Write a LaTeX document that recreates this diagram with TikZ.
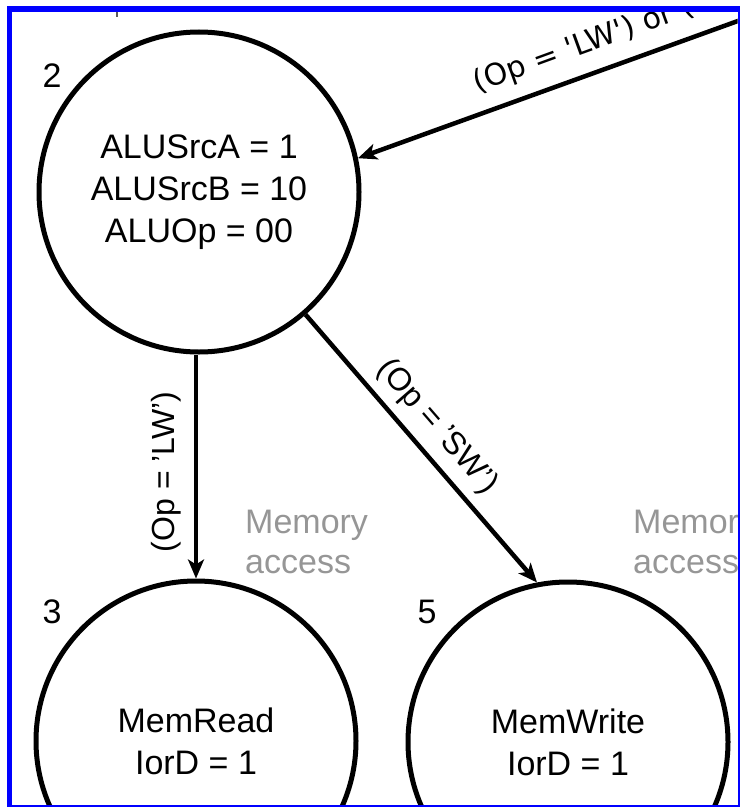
\documentclass[tikz,border=0pt]{standalone}
\usepackage{fontspec}
\setmainfont{Liberation Sans}
\newfontfamily\condfont{DejaVu Sans}
\usetikzlibrary{arrows.meta}
\definecolor{frameblue}{RGB}{0,0,255}
\definecolor{notegray}{RGB}{150,150,150}
\begin{document}
\begin{tikzpicture}[x=1pt,y=-1pt,
  state/.style={circle, draw, line width=5pt, minimum size=320pt, inner sep=0pt,
                align=center, font=\fontsize{34}{42}\selectfont},
  trans/.style={line width=4.5pt, -{Stealth[length=19pt,width=16pt,inset=5pt]}},
  statenum/.style={font=\fontsize{34}{40}\selectfont, inner sep=0pt},
  cond/.style={font=\fontsize{32}{38}\selectfont, inner sep=0pt},
  note/.style={font=\fontsize{34}{40}\selectfont, text=notegray, align=left, inner sep=0pt}]
\useasboundingbox (0,0) rectangle (743,808);

\begin{scope}
  \clip (12,12) rectangle (737.5,804.7);

  % states
  \node[state] (s2) at (199,192) {ALUSrcA = 1\\ALUSrcB = 10\\ALUOp = 00};
  \node[state] (s3) at (196,741) {MemRead\\IorD = 1};
  \node[state] (s5) at (568,742) {MemWrite\\IorD = 1};

  \node[statenum] (n2) at (52,76) {2};
  \node[statenum] (n3) at (52,612) {3};
  \node[statenum] (n5) at (427,612) {5};

  % transitions
  \coordinate (fromdec) at (760,13);
  \draw[trans] (fromdec) -- (s2.12);
  \draw[trans] (s3.north |- s2.south) -- (s3.north);
  \draw[trans] (s2.-49) -- (s5.101);

  % conditions
  \node[font=\condfont\fontsize{30}{36}\selectfont, rotate=20, anchor=base west, inner sep=0pt]
       (cdec) at (477,93) {(Op = 'LW') or (Op = 'SW')};
  \node[cond, rotate=90] (clw) at (166,472) {(Op = 'LW')};
  \node[cond, rotate=-49] (csw) at (437,427) {(Op = 'SW')};

  % phase notes (anchored at the baseline of the last line)
  \node[note, anchor=base west] (mem1) at (245,573) {Memory\\access};
  \node[note, anchor=base west] (mem2) at (633,573) {Memory\\access};

  % descender of text above the frame
  \draw[notegray!60!black, line width=1.5pt] (117,12) -- (117,17);
\end{scope}

% frame
\fill[frameblue] (7,6) rectangle (740,12);
\fill[frameblue] (7,6) rectangle (12,807);
\fill[frameblue] (737.5,6) rectangle (739.5,807);
\fill[frameblue] (7,804.7) rectangle (739.5,806.7);
\end{tikzpicture}
\end{document}
